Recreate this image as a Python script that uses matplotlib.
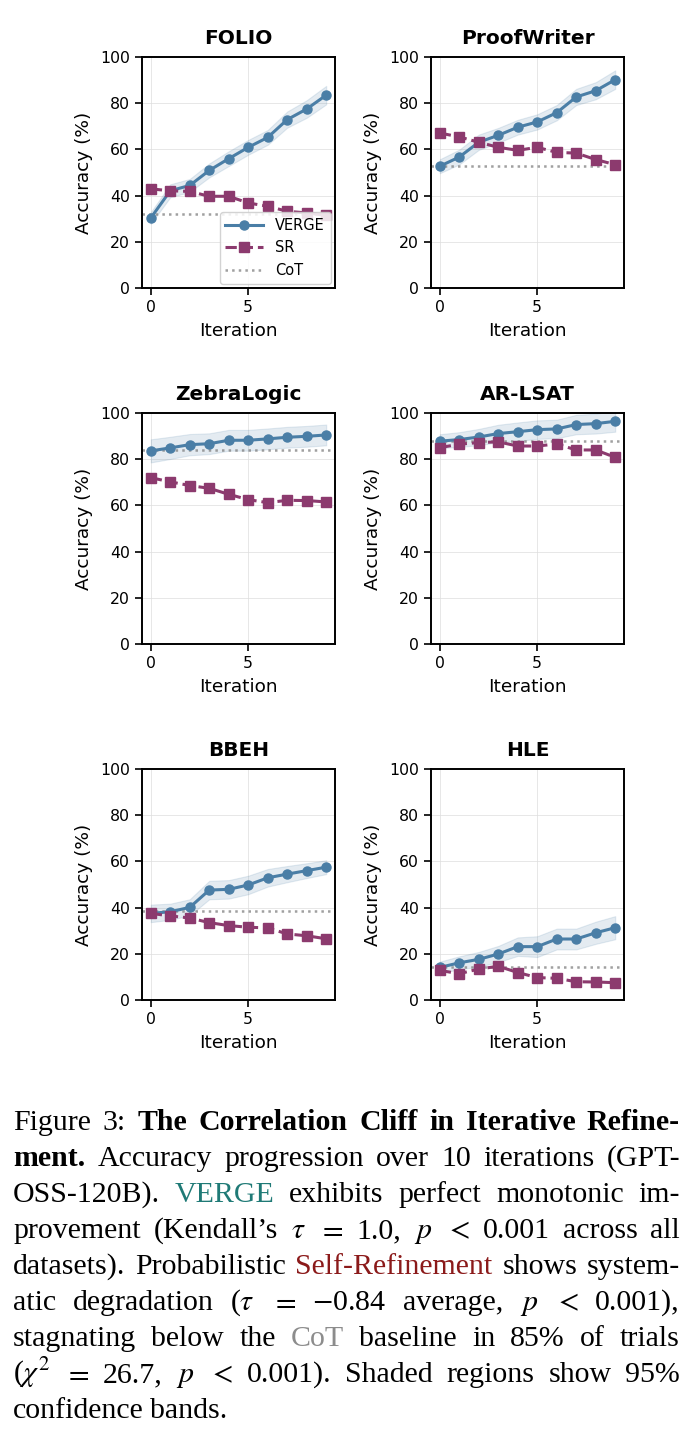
# Iterative refinement accuracy curves, 6 benchmarks, with the figure caption
import numpy as np
import matplotlib.pyplot as plt

iterations = list(range(10))
datasets = ['FOLIO', 'ProofWriter', 'ZebraLogic', 'AR-LSAT', 'BBEH', 'HLE']

verge_acc = {
    'FOLIO': [30.3, 42.1, 44.4, 50.9, 56.0, 60.9, 65.2, 72.9, 77.5, 83.5],
    'ProofWriter': [52.7, 56.7, 63.1, 66.1, 69.6, 71.9, 75.9, 82.7, 85.4, 90.2],
    'ZebraLogic': [83.6, 84.9, 86.3, 86.7, 88.2, 88.2, 88.8, 89.5, 89.9, 90.5],
    'AR-LSAT': [87.8, 88.5, 89.6, 91.1, 91.9, 92.8, 93.1, 95.0, 95.4, 96.4],
    'BBEH': [37.5, 38.2, 40.1, 47.6, 47.9, 49.8, 52.9, 54.5, 56.0, 57.5],
    'HLE': [14.1, 16.1, 17.6, 19.9, 23.1, 23.1, 26.4, 26.4, 29.1, 31.3],
}
verge_ci = {
    'FOLIO': [2.5, 2.8, 2.8, 3.0, 3.2, 3.2, 3.2, 3.5, 3.8, 4.0],
    'ProofWriter': [3.0, 3.2, 3.3, 3.2, 3.2, 3.3, 3.3, 3.5, 3.7, 4.0],
    'ZebraLogic': [5.0, 4.8, 4.6, 4.5, 4.5, 4.5, 4.5, 4.5, 4.5, 4.5],
    'AR-LSAT': [3.0, 3.2, 3.5, 3.8, 4.0, 4.0, 4.0, 4.2, 4.3, 4.5],
    'BBEH': [3.8, 3.5, 3.5, 4.0, 4.0, 4.0, 3.8, 3.5, 3.2, 3.0],
    'HLE': [2.5, 2.8, 3.2, 3.5, 4.0, 4.5, 4.5, 4.5, 4.8, 5.0],
}
sr_acc = {
    'FOLIO': [42.9, 42.1, 41.8, 39.7, 39.7, 36.8, 35.4, 33.2, 32.5, 31.5],
    'ProofWriter': [67.1, 65.4, 63.1, 60.9, 59.6, 60.9, 58.7, 58.4, 55.6, 53.4],
    'ZebraLogic': [72.0, 70.2, 68.6, 67.4, 64.8, 62.5, 61.2, 62.2, 62.1, 61.5],
    'AR-LSAT': [85.0, 86.5, 87.2, 87.5, 85.7, 85.7, 86.6, 84.0, 84.0, 80.8],
    'BBEH': [37.5, 36.4, 35.5, 33.5, 32.2, 31.5, 31.2, 28.6, 27.8, 26.5],
    'HLE': [12.8, 11.4, 13.4, 14.6, 11.9, 9.7, 9.4, 7.9, 7.8, 7.5],
}
cot_acc = {'FOLIO': 32.0, 'ProofWriter': 52.7, 'ZebraLogic': 83.9,
           'AR-LSAT': 87.9, 'BBEH': 38.4, 'HLE': 14.1}

caption_lines = [
    [('Figure 3:', 'normal', 'black'),
     ('The Correlation Cliff in Iterative Refine-', 'bold', 'black')],
    [('ment.', 'bold', 'black'),
     ('Accuracy progression over 10 iterations (GPT-', 'normal', 'black')],
    [('OSS-120B).', 'normal', 'black'), ('VERGE', 'normal', '#1f7a76'),
     ('exhibits perfect monotonic im-', 'normal', 'black')],
    [('provement (Kendall\u2019s $\\tau$ $=$ 1.0, $p$ $<$ 0.001 across all',
      'normal', 'black')],
    [('datasets). Probabilistic', 'normal', 'black'),
     ('Self-Refinement', 'normal', '#8b1a1a'),
     ('shows system-', 'normal', 'black')],
    [('atic degradation ($\\tau$ $=$ $-$0.84 average, $p$ $<$ 0.001),',
      'normal', 'black')],
    [('stagnating below the', 'normal', 'black'), ('CoT', 'normal', '#8c8c8c'),
     ('baseline in 85% of trials', 'normal', 'black')],
    [('($\\chi^2$ $=$ 26.7, $p$ $<$ 0.001). Shaded regions show 95%',
      'normal', 'black')],
    [('confidence bands.', 'normal', 'black')],
]

VERGE_COLOR = '#4a7ea6'
SR_COLOR = '#8c3a6e'
W, H = 692, 1442

plt.rcParams['mathtext.fontset'] = 'stix'
fig = plt.figure(figsize=(W / 100, H / 100), dpi=100)

col_left = [142, 431]
ax_w = 193
row_top = [57, 413, 769]
ax_h = 231

for i, name in enumerate(datasets):
    r, c = divmod(i, 2)
    ax = fig.add_axes([col_left[c] / W, 1 - (row_top[r] + ax_h) / H,
                       ax_w / W, ax_h / H])
    v = np.array(verge_acc[name])
    ci = np.array(verge_ci[name])
    ax.fill_between(iterations, v - ci, v + ci, color=VERGE_COLOR,
                    alpha=0.15, lw=0.8)
    ax.plot(iterations, v, '-o', color=VERGE_COLOR, lw=2.2, ms=6.5,
            label='VERGE', zorder=3)
    ax.plot(iterations, sr_acc[name], '--s', color=SR_COLOR, lw=2.2, ms=6.5,
            label='SR', zorder=3)
    ax.axhline(cot_acc[name], color='gray', ls=':', lw=1.8, alpha=0.75,
               label='CoT')
    ax.set_ylim(0, 100)
    ax.set_yticks(range(0, 101, 20))
    ax.set_xticks([0, 5])
    ax.set_xlim(-0.45, 9.45)
    ax.grid(True, color='#dddddd', lw=0.7, alpha=0.7)
    ax.set_axisbelow(True)
    ax.tick_params(labelsize=11.3, length=5, width=1.2)
    for s in ax.spines.values():
        s.set_linewidth(1.4)
    ax.set_title(name, fontsize=14.5, fontweight='bold', pad=9)
    ax.set_xlabel('Iteration', fontsize=13.3, labelpad=5)
    ax.set_ylabel('Accuracy (%)', fontsize=13.3, labelpad=5)
    if i == 0:
        ax.legend(loc='lower right', fontsize=10.5, handlelength=2.6,
                  borderaxespad=0.3, framealpha=0.85, edgecolor='#cccccc')

# caption, justified between x0 and x1
renderer = fig.canvas.get_renderer()
x0, x1 = 13, 680
base0, step = 1130, 36
for li, segs in enumerate(caption_lines):
    words = []
    for text, weight, color in segs:
        for w in text.split(' '):
            words.append((w, weight, color))
    objs = []
    for w, weight, color in words:
        t = fig.text(0, 0, w, fontsize=21.5, family='Liberation Serif',
                     fontweight=weight, color=color, va='baseline')
        objs.append(t)
    widths = [t.get_window_extent(renderer).width for t in objs]
    if li == len(caption_lines) - 1:
        gap = 6.5
    else:
        gap = max((x1 - x0 - sum(widths)) / (len(objs) - 1), 2)
    x = x0
    y = base0 + li * step
    for t, wd in zip(objs, widths):
        t.set_position((x / W, 1 - y / H))
        x += wd + gap

fig.savefig('out.png', dpi=100)
